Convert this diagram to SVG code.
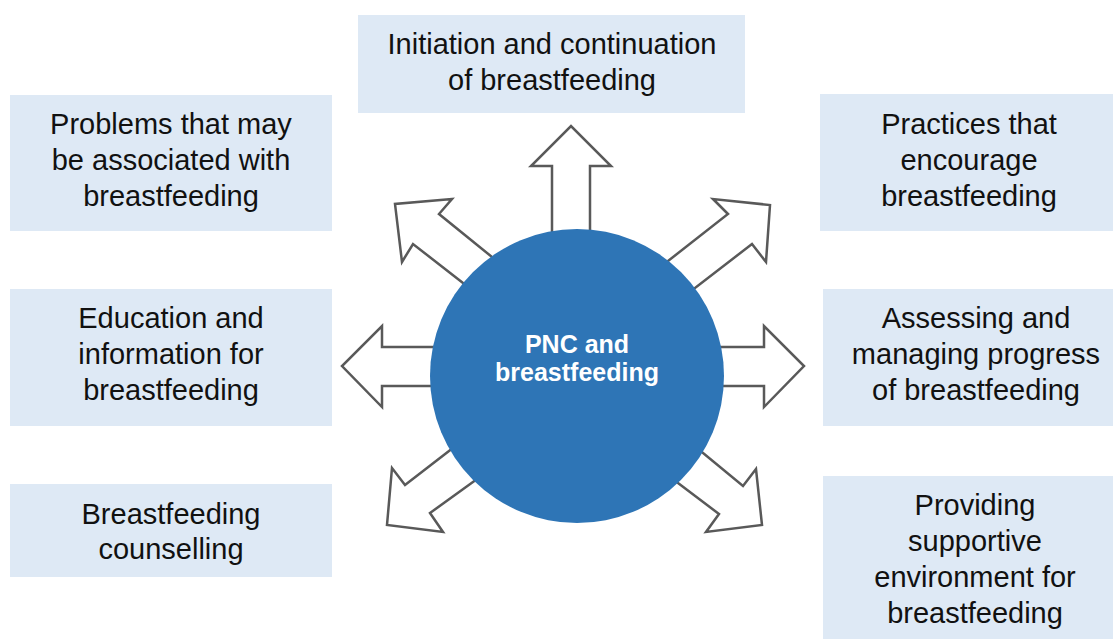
<svg xmlns="http://www.w3.org/2000/svg" width="1113" height="639" viewBox="0 0 1113 639">
  <style>
    .box { fill: #DEE9F5; }
    .lbl { font-family: "Liberation Sans", Arial, sans-serif; font-size: 29px; fill: #111; text-anchor: middle; }
    .hub { fill: #2E75B6; }
    .hubtxt { font-family: "Liberation Sans", Arial, sans-serif; font-size: 25px; font-weight: bold; fill: #fff; text-anchor: middle; }
    .arrow { fill: #fff; stroke: #595959; stroke-width: 2.5; stroke-linejoin: miter; }
  </style>

  <!-- block arrows radiating from the hub -->
  <g id="connectors">
    <polygon class="arrow" points="552,300 552,166 531,166 571,126 611,166 590,166 590,300"/>
    <polygon class="arrow" points="460,347 382,347 382,326 342,366 382,407 382,386 460,386"/>
    <polygon class="arrow" points="700,347 764,347 764,326 804,366 764,407 764,386 700,386"/>
    <polygon class="arrow" points="545,300 439,214 452,199 395,204 402,262 413,244 513,322"/>
    <polygon class="arrow" points="608,308 728,214 713,199 770,205 766,262 752,244 638,332"/>
    <polygon class="arrow" points="537,383 405,485 392,468 387,525 443,532 430,513 559,420"/>
    <polygon class="arrow" points="623,387 743,486 756,469 762,525 706,532 719,514 596,421"/>
  </g>

  <g id="hub">
    <circle class="hub" cx="577" cy="376" r="147"/>
    <text class="hubtxt" x="577" y="353">PNC and</text>
    <text class="hubtxt" x="577" y="381">breastfeeding</text>
  </g>

  <g id="initiation">
    <rect class="box" x="358" y="15" width="387" height="98"/>
    <text class="lbl" x="552" y="54">Initiation and continuation</text>
    <text class="lbl" x="552" y="90">of breastfeeding</text>
  </g>

  <g id="problems">
    <rect class="box" x="10" y="95" width="322" height="136"/>
    <text class="lbl" x="171" y="134">Problems that may</text>
    <text class="lbl" x="171" y="170">be associated with</text>
    <text class="lbl" x="171" y="206">breastfeeding</text>
  </g>

  <g id="education">
    <rect class="box" x="10" y="289" width="322" height="137"/>
    <text class="lbl" x="171" y="328">Education and</text>
    <text class="lbl" x="171" y="364">information for</text>
    <text class="lbl" x="171" y="400">breastfeeding</text>
  </g>

  <g id="counselling">
    <rect class="box" x="10" y="484" width="322" height="93"/>
    <text class="lbl" x="171" y="524">Breastfeeding</text>
    <text class="lbl" x="171" y="559">counselling</text>
  </g>

  <g id="practices">
    <rect class="box" x="820" y="94" width="293" height="137"/>
    <text class="lbl" x="969" y="134">Practices that</text>
    <text class="lbl" x="969" y="170">encourage</text>
    <text class="lbl" x="969" y="206">breastfeeding</text>
  </g>

  <g id="assessing">
    <rect class="box" x="823" y="289" width="290" height="137"/>
    <text class="lbl" x="976" y="328">Assessing and</text>
    <text class="lbl" x="976" y="364">managing progress</text>
    <text class="lbl" x="976" y="400">of breastfeeding</text>
  </g>

  <g id="environment">
    <rect class="box" x="823" y="476" width="290" height="163"/>
    <text class="lbl" x="975" y="515">Providing</text>
    <text class="lbl" x="975" y="551">supportive</text>
    <text class="lbl" x="975" y="587">environment for</text>
    <text class="lbl" x="975" y="623">breastfeeding</text>
  </g>
</svg>
